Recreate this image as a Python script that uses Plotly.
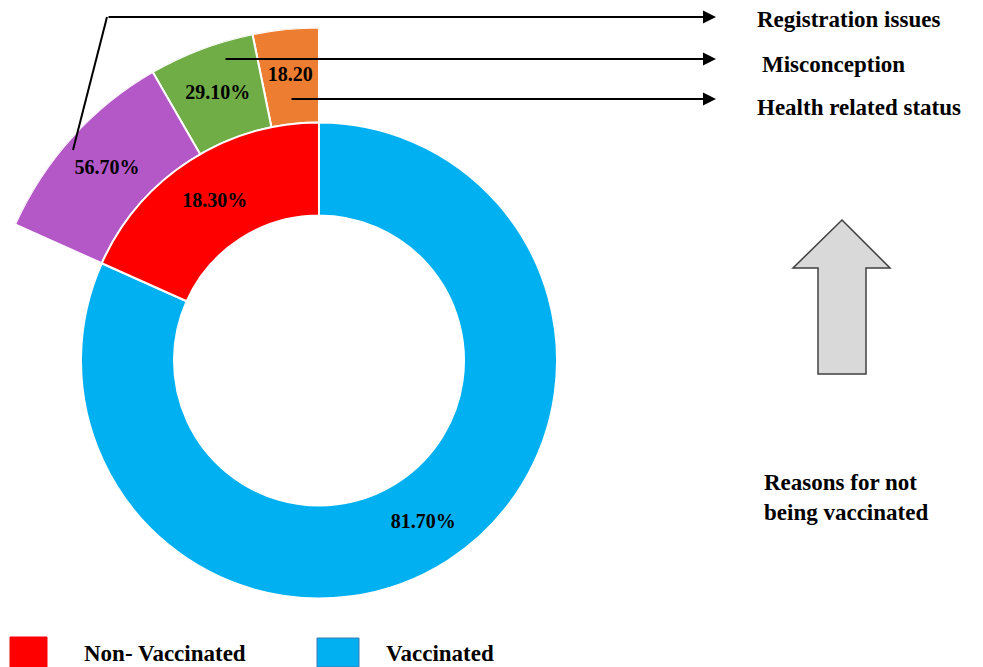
import math
import plotly.graph_objects as go

# page offset: the figure sits 8px inside the page body
OFF = 8
W, H = 983 - OFF, 667 - OFF

# ---- data ----
inner_labels = ["Non- Vaccinated", "Vaccinated"]
inner_values = [18.3, 81.7]
inner_text = ["18.30%", "81.70%"]
inner_colors = ["#ff0000", "#00b0f0"]

reason_labels = ["Health related status", "Misconception", "Registration issues"]
reason_values = [18.2, 29.1, 56.7]
reason_text = ["18.20", "29.10%", "56.70%"]
reason_colors = ["#ed7d31", "#70ad47", "#b558c7"]

side_title = "Reasons for not<br>being vaccinated"

# ---- geometry (page pixels) ----
cx, cy = 319, 360.5
R_in = 238.0
R_hole = 145.0
R_out = 333.0

SERIF = "Liberation Serif, Times New Roman, serif"
FONT = dict(family=SERIF, size=20, color="black", weight="bold")
WFONT = dict(family=SERIF, size=23, color="black", weight="bold")


def px(x):
    return (x - OFF) / W


def py(y):
    return 1 - (y - OFF) / H


fig = go.Figure()

# inner donut: with counterclockwise direction plotly puts the first slice
# clockwise of 12 o'clock, so list Vaccinated first to put Non-Vaccinated on the left
fig.add_trace(go.Pie(
    labels=inner_labels[::-1], values=inner_values[::-1], text=inner_text[::-1],
    textinfo="text", texttemplate="%{text}", textposition="inside",
    insidetextorientation="horizontal", insidetextfont=FONT,
    marker=dict(colors=inner_colors[::-1], line=dict(color="white", width=2)),
    hole=R_hole / R_in, sort=False, direction="counterclockwise", rotation=0,
    domain=dict(x=[px(cx - R_in), px(cx + R_in)], y=[py(cy + R_in), py(cy - R_in)]),
    showlegend=False, hoverinfo="label+percent",
))

# outer partial ring for reasons, spanning the non-vaccinated angle
span_total = 360.0 * inner_values[0] / sum(inner_values)
tot = sum(reason_values)
spans = [v / tot * span_total for v in reason_values]
centers = []
acc = 90.0
for s in spans:
    centers.append(acc + s / 2)
    acc += s

fig.add_trace(go.Barpolar(
    r=[R_out - R_in] * len(reason_values), base=[R_in] * len(reason_values),
    theta=centers, width=spans,
    marker=dict(color=reason_colors, line=dict(color="white", width=2)),
    text=reason_labels, hoverinfo="text", subplot="polar", showlegend=False,
))
fig.add_trace(go.Scatterpolar(
    r=[(R_in + R_out) / 2] * len(reason_values), theta=centers,
    mode="text", text=reason_text, textfont=FONT, subplot="polar",
    showlegend=False, hoverinfo="skip",
))

s0, s1 = 90 - 1.0, 90 + span_total + 1.0
c0, c1 = math.cos(math.radians(s0)), math.cos(math.radians(s1))
bx0, bx1 = min(0, c0, c1), max(0, c0, c1)
fig.update_layout(polar=dict(
    domain=dict(x=[px(cx + bx0 * R_out), px(cx + bx1 * R_out)], y=[py(cy), py(cy - R_out)]),
    sector=[s0, s1], hole=0, bgcolor="rgba(0,0,0,0)",
    radialaxis=dict(range=[0, R_out], visible=False),
    angularaxis=dict(visible=False, direction="counterclockwise", rotation=0),
))

shapes = []
annotations = []

# connector lines and arrows
shapes.append(dict(type="path", xref="paper", yref="paper",
                   path=f"M {px(73)},{py(150)} L {px(107)},{py(17)}",
                   line=dict(color="black", width=2)))
arrow_rows = [(107, 17, reason_labels[2], 755), (224, 59, reason_labels[1], 760), (290, 99, reason_labels[0], 755)]
label_y = [20, 64, 107]
for (x0, y0, lab, lx), ly in zip(arrow_rows, label_y):
    annotations.append(dict(x=px(716), y=py(y0), xref="paper", yref="paper", text="",
                            showarrow=True, ax=x0 - 716, ay=0, axref="pixel", ayref="pixel",
                            arrowhead=2, arrowsize=1.3, arrowwidth=2, arrowcolor="black", standoff=0))
    annotations.append(dict(x=px(lx), y=py(ly), xref="paper", yref="paper", text=lab,
                            showarrow=False, xanchor="left", yanchor="middle", font=WFONT))

# big up arrow
pts = [(842, 220), (890, 268), (866, 268), (866, 374), (818, 374), (818, 268), (793, 268)]
path = "M " + " L ".join(f"{px(x)},{py(y)}" for x, y in pts) + " Z"
shapes.append(dict(type="path", xref="paper", yref="paper", path=path,
                   fillcolor="#d9d9d9", line=dict(color="#404040", width=1.5)))
annotations.append(dict(x=px(762), y=py(498), xref="paper", yref="paper", text=side_title,
                        showarrow=False, xanchor="left", yanchor="middle", align="left", font=WFONT))

# legend
leg = [(10, 47, 637, 82, 0), (317, 359, 638, 384, 1)]
for x0, x1, y0, tx, i in leg:
    shapes.append(dict(type="rect", xref="paper", yref="paper", x0=px(x0), x1=px(x1), y0=py(667), y1=py(y0),
                       fillcolor=inner_colors[i], line=dict(color="#3b7bb0" if i == 1 else inner_colors[i], width=1)))
    annotations.append(dict(x=px(tx), y=py(653), xref="paper", yref="paper", text=inner_labels[i],
                            showarrow=False, xanchor="left", yanchor="middle", font=WFONT))

fig.update_layout(width=W, height=H, margin=dict(l=0, r=0, t=0, b=0),
                  paper_bgcolor="white", plot_bgcolor="white",
                  shapes=shapes, annotations=annotations, showlegend=False)

fig.write_html("out.html")
